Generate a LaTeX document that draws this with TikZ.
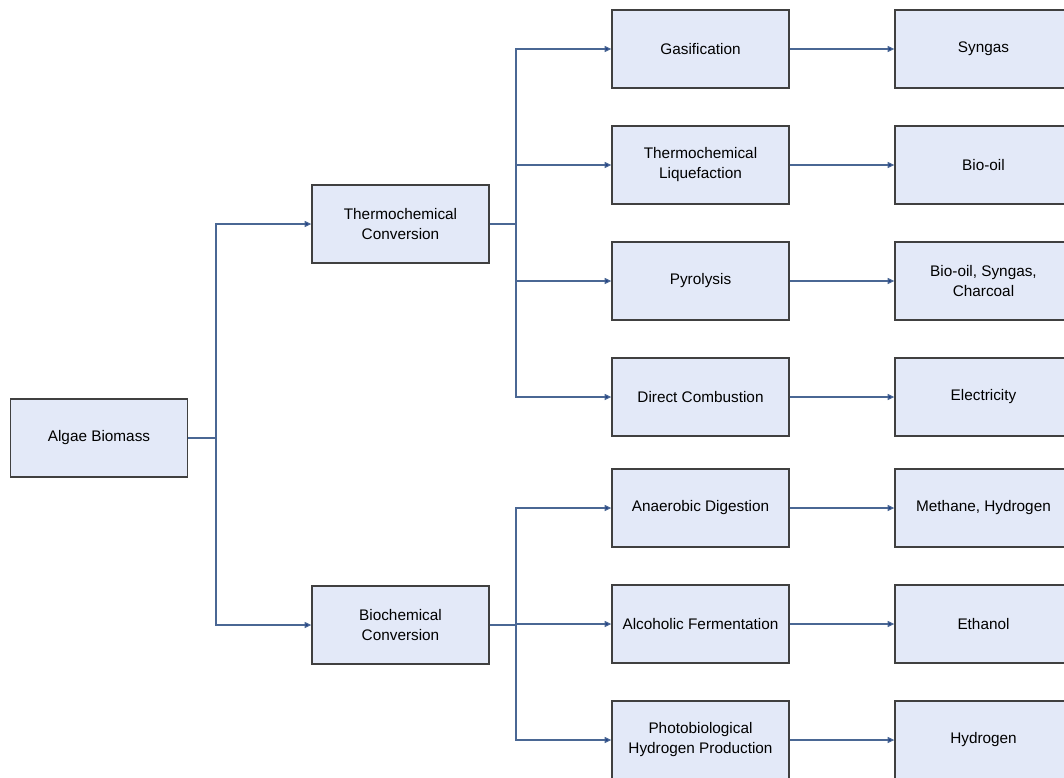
\documentclass[tikz,border=0pt]{standalone}
\usepackage{fontspec}
\setmainfont{Liberation Sans}
\usetikzlibrary{arrows.meta}
\definecolor{boxfill}{HTML}{E3E9F8}
\definecolor{boxline}{HTML}{404040}
\definecolor{conn}{HTML}{4A6794}
\definecolor{tip}{HTML}{1F3F86}
\begin{document}
\begin{tikzpicture}[x=0.75pt,y=-0.75pt,
  box/.style={draw=boxline,line width=1pt,fill=boxfill,minimum width=177*0.75pt,minimum height=78*0.75pt,align=center,font=\fontsize{11.5}{15}\selectfont,text=black,inner sep=2pt},
  link/.style={draw=conn,line width=0.8pt},
  arr/.style={link,-{Triangle[length=5pt,width=4.5pt,fill=tip]}}]
\useasboundingbox (0,0) rectangle (1064,778);
\begin{scope}
\clip (0,0) rectangle (1064,778);
\node[box] (alg) at (99,438) {Algae Biomass};
\node[box] (thc) at (400.5,224) {Thermochemical\\Conversion};
\node[box] (bic) at (400.5,625) {Biochemical\\Conversion};
\node[box] (gas) at (700.5,49) {Gasification};
\node[box] (liq) at (700.5,165) {Thermochemical\\Liquefaction};
\node[box] (pyr) at (700.5,281) {Pyrolysis};
\node[box] (dc) at (700.5,397) {Direct Combustion};
\node[box] (ad) at (700.5,508) {Anaerobic Digestion};
\node[box] (af) at (700.5,624) {Alcoholic Fermentation};
\node[box] (ph) at (700.5,740) {Photobiological\\Hydrogen Production};
\node[box] (syn) at (983.5,49) {Syngas};
\node[box] (bo) at (983.5,165) {Bio-oil};
\node[box] (bsc) at (983.5,281) {Bio-oil, Syngas,\\Charcoal};
\node[box] (ele) at (983.5,397) {Electricity};
\node[box] (mh) at (983.5,508) {Methane, Hydrogen};
\node[box] (eth) at (983.5,624) {Ethanol};
\node[box] (hyd) at (983.5,740) {Hydrogen};
\end{scope}
\coordinate (j1) at (216,438);
\coordinate (j2) at (516,224);
\coordinate (j3) at (516,625);
% Algae branch
\draw[link] (alg.east) -- (j1);
\draw[arr] (j1) |- (thc.west);
\draw[arr] (j1) |- (bic.west);
% Thermochemical branch
\draw[link] (thc.east) -- (j2);
\draw[arr] (j2) |- (gas.west);
\draw[arr] (j2) |- (liq.west);
\draw[arr] (j2) |- (pyr.west);
\draw[arr] (j2) |- (dc.west);
% Biochemical branch
\draw[link] (bic.east) -- (j3);
\draw[arr] (j3) |- (ad.west);
\draw[arr] (j3) |- (af.west);
\draw[arr] (j3) |- (ph.west);
% products
\draw[arr] (gas) -- (syn);
\draw[arr] (liq) -- (bo);
\draw[arr] (pyr) -- (bsc);
\draw[arr] (dc) -- (ele);
\draw[arr] (ad) -- (mh);
\draw[arr] (af) -- (eth);
\draw[arr] (ph) -- (hyd);
\end{tikzpicture}
\end{document}
